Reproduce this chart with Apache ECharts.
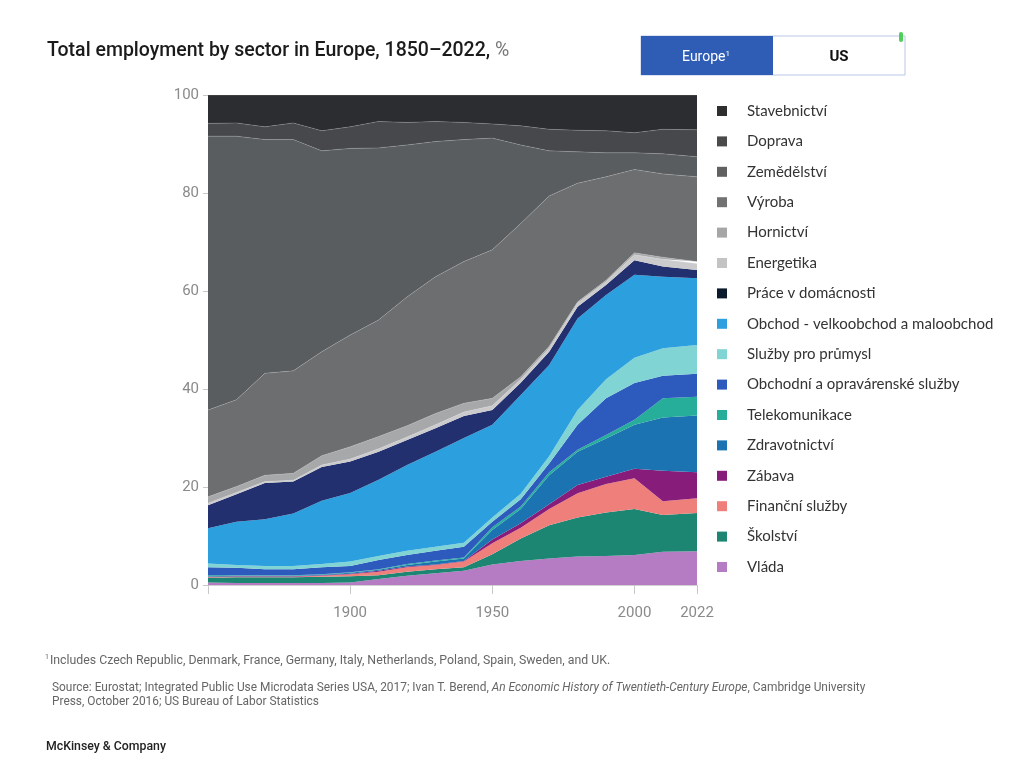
<!DOCTYPE html>
<html>
<head>
<meta charset="utf-8">
<script src="https://cdn.jsdelivr.net/npm/echarts@6/dist/echarts.min.js"></script>
<style>
  html, body { margin: 0; padding: 0; background: #fff; }
  #chart { width: 1024px; height: 782px; }
</style>
</head>
<body>
<div id="chart"></div>
<script>
// years sampled in the chart
const years = [1850, 1860, 1870, 1880, 1890, 1900, 1910, 1920, 1930, 1940, 1950, 1960, 1970, 1980, 1990, 2000, 2010, 2022];

// share of total employment, %, bottom of the stack first
const vlada       = [0.5, 0.4, 0.4, 0.4, 0.4, 0.5, 1.2, 1.9, 2.4, 2.9, 4.2, 4.9, 5.4, 5.8, 5.9, 6.1, 6.8, 6.9];
const skolstvi    = [1.0, 1.2, 1.2, 1.2, 1.3, 1.3, 0.8, 0.8, 0.8, 0.7, 2.1, 4.6, 6.8, 8.0, 8.9, 9.4, 7.5, 7.8];
const financni    = [0.1, 0.1, 0.1, 0.1, 0.2, 0.4, 0.7, 0.9, 0.9, 1.2, 2.2, 2.2, 3.3, 4.9, 5.8, 6.3, 2.8, 3.0];
const zabava      = [0.1, 0.1, 0.1, 0.1, 0.1, 0.1, 0.2, 0.2, 0.1, 0.1, 0.8, 0.9, 1.0, 1.7, 1.5, 1.9, 6.2, 5.3];
const zdravotnictvi = [0.1, 0.1, 0.1, 0.1, 0.1, 0.2, 0.2, 0.3, 0.6, 0.5, 1.9, 2.9, 5.9, 6.8, 7.8, 9.0, 10.9, 11.6];
const telekom     = [0.2, 0.1, 0.1, 0.1, 0.1, 0.1, 0.1, 0.2, 0.2, 0.2, 0.6, 0.5, 0.6, 0.4, 0.7, 1.0, 3.9, 3.8];
const obchodniOpr = [1.6, 1.5, 1.2, 1.2, 1.4, 1.3, 1.9, 1.8, 2.0, 2.2, 1.1, 1.5, 1.8, 5.1, 7.5, 7.5, 4.6, 4.7];
const sluzbyPrum  = [0.8, 0.6, 0.7, 0.7, 0.7, 0.9, 0.8, 0.9, 0.8, 0.8, 0.9, 1.1, 1.5, 3.0, 3.9, 5.2, 5.6, 5.9];
const obchod      = [7.2, 8.8, 9.5, 10.7, 12.9, 14.0, 15.6, 17.5, 19.4, 21.4, 18.9, 20.2, 18.6, 18.7, 17.2, 16.9, 14.6, 13.6];
const domacnost   = [4.7, 5.6, 7.4, 6.5, 6.9, 6.4, 5.7, 5.1, 4.8, 4.5, 3.0, 2.5, 2.7, 2.4, 2.0, 3.0, 2.1, 1.7];
const energetika  = [0.4, 0.4, 0.3, 0.3, 0.4, 0.5, 0.6, 0.6, 0.7, 0.8, 0.9, 0.7, 0.7, 0.7, 0.7, 1.1, 1.5, 1.3];
const hornictvi   = [1.3, 1.2, 1.3, 1.4, 1.9, 2.5, 2.5, 2.3, 2.3, 1.8, 1.5, 0.5, 0.4, 0.3, 0.3, 0.4, 0.4, 0.4];
const vyroba      = [17.7, 17.7, 20.8, 20.9, 21.2, 22.8, 23.8, 26.3, 27.9, 28.9, 30.3, 31.3, 30.7, 24.2, 21.1, 17.0, 17.0, 17.3];
const zemedelstvi = [55.9, 53.8, 47.7, 47.2, 41.0, 38.1, 35.1, 31.0, 27.6, 24.9, 22.8, 16.0, 9.2, 6.4, 4.9, 3.4, 4.1, 4.1];
const doprava     = [2.6, 2.7, 2.6, 3.4, 4.1, 4.4, 5.4, 4.6, 4.1, 3.5, 2.9, 3.9, 4.4, 4.4, 4.5, 4.1, 5.0, 5.5];
const stavebnictvi = [5.8, 5.7, 6.5, 5.7, 7.3, 6.5, 5.4, 5.6, 5.4, 5.6, 5.9, 6.3, 7.0, 7.2, 7.3, 7.7, 7.0, 7.1];

const yTicks = [0, 20, 40, 60, 80, 100];
const xLabels = [1900, 1950, 2000, 2022];

// name, values, area colour, legend swatch colour
const sectors = [
  ['Vláda', vlada, '#b67cc3', '#b67cc3'],
  ['Školství', skolstvi, '#1d8673', '#1d8673'],
  ['Finanční služby', financni, '#ef7f7b', '#ef7f7b'],
  ['Zábava', zabava, '#871c7a', '#871c7a'],
  ['Zdravotnictví', zdravotnictvi, '#1b74b1', '#1b74b1'],
  ['Telekomunikace', telekom, '#26ae9b', '#26ae9b'],
  ['Obchodní a opravárenské služby', obchodniOpr, '#2d5abd', '#2d5abd'],
  ['Služby pro průmysl', sluzbyPrum, '#80d4d3', '#80d4d3'],
  ['Obchod - velkoobchod a maloobchod', obchod, '#2ca0df', '#2ca0df'],
  ['Práce v domácnosti', domacnost, '#22306f', '#0b1a2c'],
  ['Energetika', energetika, '#cbcbcd', '#c3c3c3'],
  ['Hornictví', hornictvi, '#a7a8a9', '#a6a6a6'],
  ['Výroba', vyroba, '#6d6e70', '#727272'],
  ['Zemědělství', zemedelstvi, '#5a5d60', '#616161'],
  ['Doprava', doprava, '#46484b', '#4a4a4a'],
  ['Stavebnictví', stavebnictvi, '#2b2d30', '#2f2f2f']
];

const chart = echarts.init(document.getElementById('chart'), null, { renderer: 'canvas' });

// value first, year second, so the stack runs on the share and not on the year
const series = sectors.map(function (s, i) {
  return {
    name: s[0],
    type: 'line',
    stack: 'total',
    symbol: 'none',
    dimensions: ['share', 'year'],
    encode: { x: 'year', y: 'share' },
    data: years.map(function (y, k) { return [s[1][k], y]; }),
    itemStyle: { color: s[3] },
    lineStyle: { width: i >= 10 ? 0.8 : 0, color: 'rgba(255,255,255,0.22)' },
    areaStyle: { color: s[2], opacity: 1 },
    emphasis: { disabled: true },
    z: 2
  };
});

const option = {
  animation: false,
  backgroundColor: '#fff',
  textStyle: { fontFamily: 'Roboto, "Liberation Sans", sans-serif' },
  grid: { left: 208, right: 327, top: 95, bottom: 197 },
  legend: {
    orient: 'vertical',
    left: 712,
    top: 97,
    icon: 'rect',
    itemWidth: 10,
    itemHeight: 10,
    itemGap: 12.4,
    selectedMode: false,
    data: sectors.map(function (s) { return s[0]; }).reverse(),
    textStyle: {
      fontFamily: 'Lato, "Open Sans", sans-serif',
      fontSize: 15,
      lineHeight: 18,
      color: '#333',
      padding: [0, 0, 0, 15]
    }
  },
  xAxis: {
    type: 'value',
    min: 1850,
    max: 2022,
    interval: 50,
    splitLine: { show: false },
    axisLine: { show: true, lineStyle: { color: '#d0d0d0' } },
    axisTick: { show: true, length: 9, lineStyle: { color: '#c8c8c8' } },
    axisLabel: {
      color: '#8a8a8a',
      fontSize: 15,
      margin: 21,
      showMaxLabel: true,
      formatter: function (v) { return xLabels.indexOf(v) >= 0 ? String(v) : ''; }
    }
  },
  yAxis: {
    type: 'value',
    min: yTicks[0],
    max: yTicks[yTicks.length - 1],
    interval: 20,
    splitLine: { show: false },
    axisLine: { show: false },
    axisTick: { show: true, length: 5, lineStyle: { color: '#c8c8c8' } },
    axisLabel: { color: '#8a8a8a', fontSize: 15, margin: 9 }
  },
  graphic: [
    {
      type: 'text', left: 47, top: 41,
      style: {
        text: '{b|Total employment by sector in Europe, 1850–2022, }{p|%}',
        rich: {
          b: { fontFamily: 'Roboto', fontWeight: 500, fontSize: 19.5, fill: '#1b1b1b' },
          p: { fontFamily: 'Roboto', fontWeight: 400, fontSize: 19.5, fill: '#777' }
        }
      }
    },
    {
      type: 'rect', shape: { x: 641, y: 36, width: 264, height: 39 },
      style: { fill: '#fff', stroke: '#b9c6e4', lineWidth: 1 }
    },
    {
      type: 'rect', shape: { x: 641, y: 36, width: 132, height: 39 },
      style: { fill: '#2f5db6' }
    },
    {
      type: 'rect', shape: { x: 899, y: 32, width: 4, height: 10, r: 2 },
      style: { fill: '#4fcf5a' }
    },
    {
      type: 'text', x: 706, y: 57,
      style: {
        text: '{t|Europe}{s|1}',
        align: 'center', verticalAlign: 'middle',
        rich: {
          t: { fontFamily: 'Roboto', fontSize: 14, fill: '#fff' },
          s: { fontFamily: 'Roboto', fontSize: 8, fill: '#fff', padding: [0, 0, 7, 0] }
        }
      }
    },
    {
      type: 'text', x: 839, y: 57,
      style: {
        text: 'US', align: 'center', verticalAlign: 'middle',
        fontFamily: 'Roboto', fontWeight: 'bold', fontSize: 15, fill: '#111'
      }
    },
    {
      type: 'text', left: 45, top: 654,
      style: {
        text: '{s|1}{t|Includes Czech Republic, Denmark, France, Germany, Italy, Netherlands, Poland, Spain, Sweden, and UK.}',
        rich: {
          s: { fontFamily: 'Roboto', fontSize: 7, fill: '#666', padding: [0, 1, 6, 0] },
          t: { fontFamily: 'Roboto', fontSize: 12.3, fill: '#666' }
        }
      }
    },
    {
      type: 'text', left: 52, top: 682,
      style: {
        text: '{t|Source: Eurostat; Integrated Public Use Microdata Series USA, 2017; Ivan T. Berend, }{i|An Economic History of Twentieth-Century Europe}{t|, Cambridge University}\n{t|Press, October 2016; US Bureau of Labor Statistics}',
        rich: {
          t: { fontFamily: 'Roboto', fontSize: 11.9, fill: '#666', lineHeight: 14 },
          i: { fontFamily: 'Roboto', fontStyle: 'italic', fontSize: 11.9, fill: '#666', lineHeight: 14 }
        }
      }
    },
    {
      type: 'text', left: 46, top: 741,
      style: {
        text: 'McKinsey & Company',
        fontFamily: 'Roboto', fontWeight: 500, fontSize: 12.3, fill: '#222'
      }
    }
  ],
  series: series
};

chart.setOption(option);
</script>
</body>
</html>
